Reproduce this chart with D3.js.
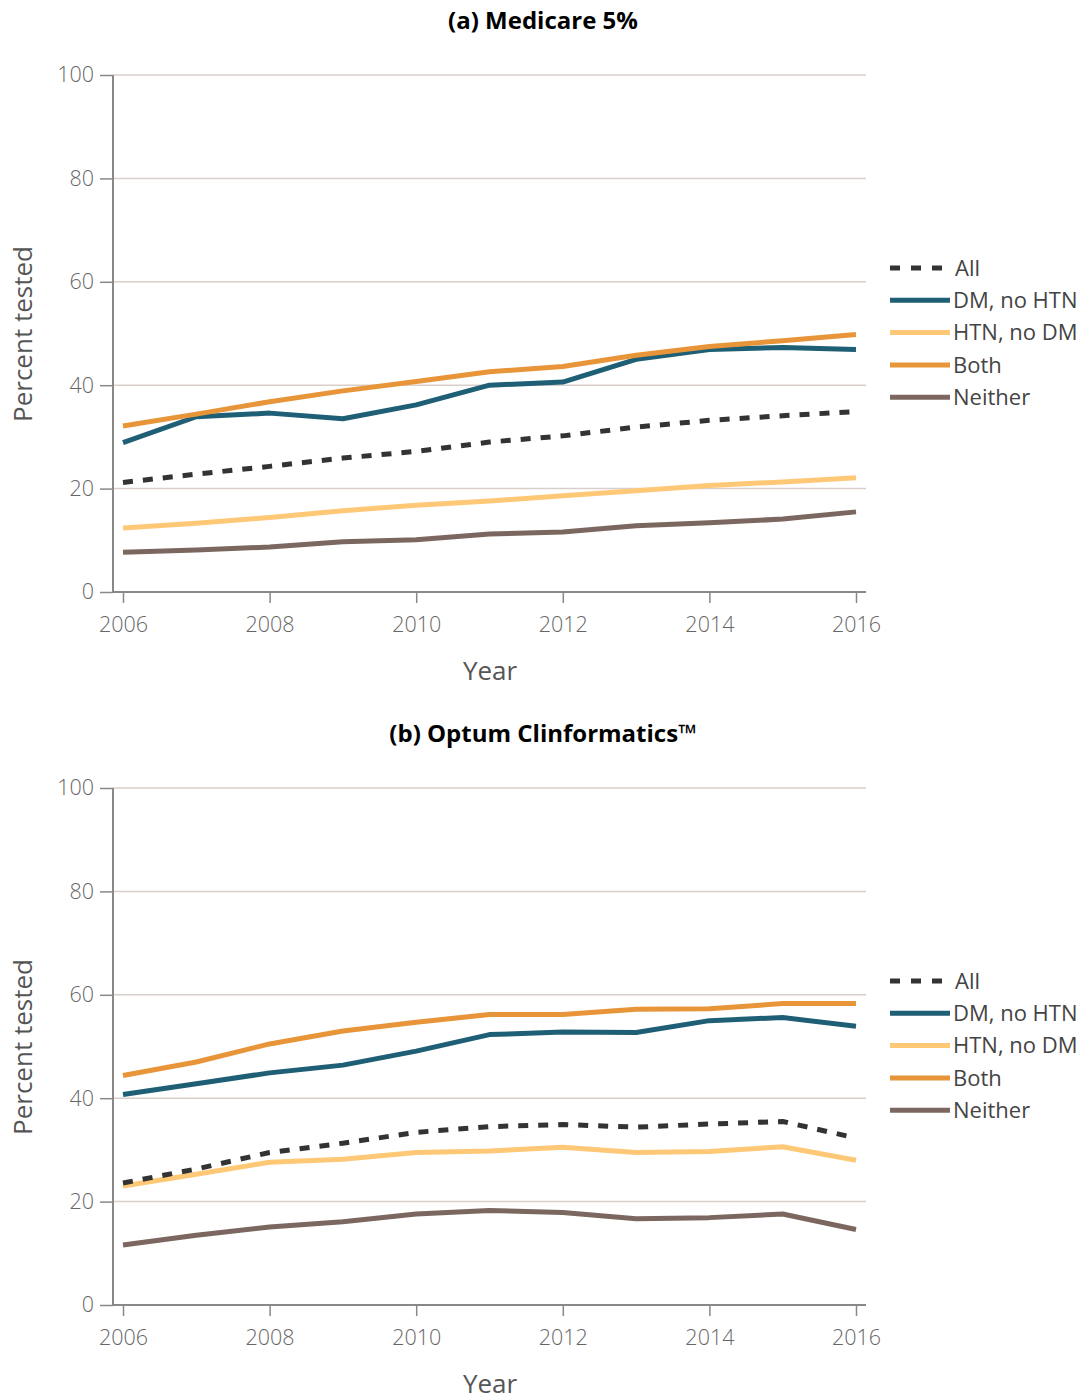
<!DOCTYPE html>
<html>
<head>
<meta charset="utf-8">
<script src="https://cdn.jsdelivr.net/npm/d3@7"></script>
<style>
  html, body { margin: 0; padding: 0; background: #fff; }
  svg { display: block; }
</style>
</head>
<body>
<svg id="chart" width="1086" height="1397"></svg>
<script>
const years = [2006, 2007, 2008, 2009, 2010, 2011, 2012, 2013, 2014, 2015, 2016];
const seriesNames = ["All", "DM, no HTN", "HTN, no DM", "Both", "Neither"];
const seriesColors = ["#333333", "#1f5f75", "#fec877", "#e8953a", "#7b675f"];
const yTicks = [0, 20, 40, 60, 80, 100];
const xTicks = [2006, 2008, 2010, 2012, 2014, 2016];

// Panel (a) Medicare 5%
const medAll     = [21.2, 22.8, 24.3, 25.9, 27.2, 29.0, 30.2, 31.9, 33.2, 34.1, 34.9];
const medDM      = [28.9, 33.9, 34.6, 33.5, 36.2, 40.0, 40.6, 45.0, 46.9, 47.3, 46.9];
const medHTN     = [12.4, 13.3, 14.4, 15.7, 16.8, 17.6, 18.6, 19.6, 20.6, 21.3, 22.1];
const medBoth    = [32.1, 34.4, 36.8, 38.9, 40.7, 42.6, 43.6, 45.8, 47.5, 48.6, 49.8];
const medNeither = [7.7, 8.1, 8.7, 9.7, 10.1, 11.2, 11.6, 12.8, 13.4, 14.1, 15.5];

// Panel (b) Optum Clinformatics
const optAll     = [23.6, 26.3, 29.5, 31.3, 33.4, 34.5, 34.9, 34.4, 35.0, 35.5, 32.3];
const optDM      = [40.7, 42.8, 44.9, 46.4, 49.1, 52.3, 52.8, 52.7, 55.0, 55.6, 53.9];
const optHTN     = [23.0, 25.3, 27.6, 28.2, 29.5, 29.8, 30.5, 29.5, 29.7, 30.6, 28.0];
const optBoth    = [44.4, 47.0, 50.5, 53.0, 54.7, 56.2, 56.2, 57.2, 57.3, 58.3, 58.3];
const optNeither = [11.6, 13.5, 15.1, 16.1, 17.6, 18.3, 17.9, 16.7, 16.9, 17.6, 14.6];

const panels = [
  { title: "(a) Medicare 5%", top: 75, series: [medAll, medDM, medHTN, medBoth, medNeither] },
  { title: "(b) Optum Clinformatics\u2122", top: 788, series: [optAll, optDM, optHTN, optBoth, optNeither] }
];

const svg = d3.select("#chart");
const font = "'Open Sans', 'DejaVu Sans', sans-serif";
const plotH = 517;
const axisX = 113;
const rightX = 866;

panels.forEach(p => {
  const g = svg.append("g");
  const y = d3.scaleLinear().domain([0, 100]).range([p.top + plotH, p.top]);
  const x = d3.scaleLinear().domain([2006, 2016]).range([123, 856]);

  // title
  g.append("text").attr("x", 543).attr("y", p.top - 46)
    .attr("text-anchor", "middle").attr("font-family", font)
    .attr("font-weight", 700).attr("font-size", 24).attr("fill", "#000")
    .attr("textLength", null)
    .text(p.title);

  // gridlines
  g.append("g").selectAll("line").data(yTicks.filter(d => d > 0)).join("line")
    .attr("x1", axisX).attr("x2", rightX)
    .attr("y1", d => y(d)).attr("y2", d => y(d))
    .attr("stroke", "#d9cfca").attr("stroke-width", 1.5);

  // y axis
  const yAxis = d3.axisLeft(y).tickValues(yTicks).tickSize(13).tickPadding(6);
  const ya = g.append("g").attr("transform", `translate(${axisX},0)`).call(yAxis);
  ya.select(".domain").remove();
  ya.selectAll(".tick line").attr("stroke", "#888").attr("stroke-width", 1.5);
  ya.selectAll(".tick text").attr("font-family", font).attr("font-weight", 300)
    .attr("font-size", 21.5).attr("fill", "#666");
  g.append("line").attr("x1", axisX).attr("x2", axisX)
    .attr("y1", p.top).attr("y2", p.top + plotH)
    .attr("stroke", "#888").attr("stroke-width", 2);

  // x axis
  const xAxis = d3.axisBottom(x).tickValues(xTicks).tickFormat(d3.format("d")).tickSize(11).tickPadding(14);
  const xa = g.append("g").attr("transform", `translate(0,${p.top + plotH})`).call(xAxis);
  xa.select(".domain").remove();
  xa.selectAll(".tick line").attr("stroke", "#888").attr("stroke-width", 1.5);
  xa.selectAll(".tick text").attr("font-family", font).attr("font-weight", 300)
    .attr("font-size", 21.5).attr("fill", "#666");
  g.append("line").attr("x1", axisX).attr("x2", rightX)
    .attr("y1", p.top + plotH).attr("y2", p.top + plotH)
    .attr("stroke", "#888").attr("stroke-width", 2);

  // axis titles
  g.append("text").attr("x", 490).attr("y", p.top + plotH + 88)
    .attr("text-anchor", "middle").attr("font-family", font).attr("font-weight", 400)
    .attr("font-size", 26).attr("fill", "#555").text("Year");
  g.append("text")
    .attr("transform", `translate(32,${p.top + 259}) rotate(-90)`)
    .attr("text-anchor", "middle").attr("font-family", font).attr("font-weight", 400)
    .attr("font-size", 26).attr("fill", "#555").text("Percent tested");

  // lines
  const line = d3.line().x((d, i) => x(years[i])).y(d => y(d));
  const drawOrder = [2, 4, 0, 1, 3];
  drawOrder.forEach(si => {
    g.append("path").datum(p.series[si])
      .attr("d", line).attr("fill", "none")
      .attr("stroke", seriesColors[si]).attr("stroke-width", 5)
      .attr("stroke-linejoin", "round")
      .attr("stroke-dasharray", si === 0 ? "10,10" : null);
  });

  // legend
  const lg = g.append("g");
  seriesNames.forEach((name, i) => {
    const ly = p.top + 193 + i * 32.3;
    lg.append("line").attr("x1", 890).attr("x2", i === 0 ? 943 : 950).attr("y1", ly).attr("y2", ly)
      .attr("stroke", seriesColors[i]).attr("stroke-width", 5)
      .attr("stroke-dasharray", i === 0 ? "10,11" : null);
    lg.append("text").attr("x", i === 0 ? 955 : 953).attr("y", ly)
      .attr("dy", "0.35em").attr("font-family", font).attr("font-weight", 400)
      .attr("font-size", 22).attr("fill", "#444").text(name);
  });
});
</script>
</body>
</html>
